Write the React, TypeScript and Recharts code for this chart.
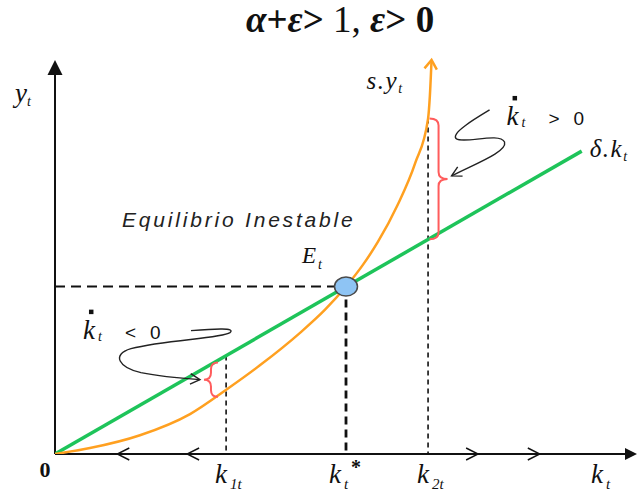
import React from 'react';
import { ComposedChart, Line, XAxis, YAxis, ReferenceLine, ReferenceDot } from 'recharts';

const serif = '"Liberation Serif", "Times New Roman", serif';
const sans = '"Liberation Sans", Arial, sans-serif';

const GREEN = '#1ec45a';
const ORANGE = '#ffa020';
const RED = '#ff5c5c';
const INK = '#111';

// δ·k_t : straight line through the origin
const deprK = [0, 9.05];
const deprY = [0, 6.15];

// s·y_t : convex saving curve
const saveK = [0, 0.6, 1.46, 2.32, 2.96, 3.52, 4.21, 4.64, 5.0, 5.29, 5.55, 5.88, 6.19, 6.41, 6.44, 6.47];
const saveY = [0, 0.12, 0.38, 0.81, 1.32, 1.8, 2.46, 2.93, 3.4, 3.84, 4.31, 5.04, 5.91, 6.81, 7.25, 8.0];

// labelled positions on the k axis (k1, k*, k2, axis name)
const tickK = [2.94, 5, 6.41, 9.4];
const tickSub = ['1t', 't', '2t', 't'];

// steady state E_t
const eqK = 5;
const eqY = 3.4;

// k1 / k2 guides: where the dashed verticals stop
const guideK = [2.94, 6.41];
const guideY = [2.0, 6.81];

// braces between the two curves
const gapK = [2.74, 6.41];
const gapLow = [1.16, 4.36];
const gapHigh = [1.86, 6.81];
const gapSign = ['<', '>'];

// direction arrows on the k axis
const flowK = [1.07, 2.27, 7.27, 8.33];
const flowDir = [-1, -1, 1, 1];

const deprData = deprK.map((k, i) => ({ k, y: deprY[i] }));
const saveData = saveK.map((k, i) => ({ k, y: saveY[i] }));

// open arrow head at (x, y), coming from (fx, fy)
const headPath = (x: number, y: number, fx: number, fy: number, len = 11, spread = 0.5) => {
  const a = Math.atan2(fy - y, fx - x);
  const p1 = [x + len * Math.cos(a - spread), y + len * Math.sin(a - spread)];
  const p2 = [x + len * Math.cos(a + spread), y + len * Math.sin(a + spread)];
  return `M${p1[0]},${p1[1]} L${x},${y} L${p2[0]},${p2[1]}`;
};

const AxisArrow = (p: any) => {
  const { x1, y1, x2, y2 } = p;
  const horiz = Math.abs(y2 - y1) < 1;
  const head = horiz
    ? `M${x2},${y2} L${x2 - 12},${y2 - 6} L${x2 - 12},${y2 + 6} Z`
    : `M${x2},${y2} L${x2 - 7.5},${y2 + 15} L${x2 + 7.5},${y2 + 15} Z`;
  return (
    <g>
      <line x1={x1} y1={y1} x2={horiz ? x2 - 10 : x2} y2={horiz ? y2 : y2 + 12} stroke={INK} strokeWidth={2} />
      <path d={head} fill={INK} />
    </g>
  );
};

const flowShape = (dir: number) => (p: any) => (
  <path
    d={`M${p.cx - dir * 12},${p.cy - 6} L${p.cx},${p.cy} L${p.cx - dir * 12},${p.cy + 6}`}
    fill="none"
    stroke={INK}
    strokeWidth={1.4}
  />
);

const RateNote = ({ x, y, sign }: { x: number; y: number; sign: string }) => (
  <g fill={INK}>
    <rect x={x + 6} y={y - 29} width={4.5} height={4.5} />
    <text x={x} y={y} fontFamily={serif} fontStyle="italic" fontSize={27}>k</text>
    <text x={x + 15} y={y + 2} fontFamily={serif} fontStyle="italic" fontSize={14}>t</text>
    <text x={x + 42} y={y} fontFamily={sans} fontSize={19}>{sign}</text>
    <text x={x + 67} y={y} fontFamily={sans} fontSize={19}>0</text>
  </g>
);

// squiggly pointer strokes, relative to the brace tip
const squiggles = [
  [[-13, -49], [12, -51], [32, -52], [26, -47], [17, -41], [-38, -40], [-73, -31], [-93, -25], [-85, -12], [-63, -7], [-43, -3], [-18, -1], [-4, 0]],
  [[42, -69], [27, -60], [2, -45], [9, -40], [17, -35], [52, -47], [57, -37], [60, -27], [27, -15], [4, -3]],
];
const noteAt = [[-121, -41], [59, -54]];

const gapShape = (i: number) => (p: any) => {
  const { x1, y1, y2 } = p;
  const top = Math.min(y1, y2);
  const bot = Math.max(y1, y2);
  const mid = (top + bot) / 2;
  const dir = i === 0 ? -1 : 1;
  const w = i === 0 ? 7 : 9;
  const bx = x1 + (i === 0 ? 3.5 : 1.5);
  const vx = bx + dir * w;
  const tx = bx + dir * 2 * w;
  const r = Math.min(7, (bot - top) / 5);
  const brace =
    `M${bx},${top} Q${vx},${top} ${vx},${top + r} L${vx},${mid - r} Q${vx},${mid} ${tx},${mid} ` +
    `Q${vx},${mid} ${vx},${mid + r} L${vx},${bot - r} Q${vx},${bot} ${bx},${bot}`;
  const pts = squiggles[i].map(([dx, dy]) => [tx + dx, mid + dy]);
  let d = `M${pts[0][0]},${pts[0][1]}`;
  for (let j = 1; j + 2 < pts.length; j += 3) {
    d += ` C${pts[j][0]},${pts[j][1]} ${pts[j + 1][0]},${pts[j + 1][1]} ${pts[j + 2][0]},${pts[j + 2][1]}`;
  }
  const end = pts[pts.length - 1];
  const prev = pts[pts.length - 2];
  return (
    <g>
      <path d={brace} fill="none" stroke={RED} strokeWidth={2} />
      <path d={d} fill="none" stroke="#222" strokeWidth={1.4} />
      <path d={headPath(end[0], end[1], prev[0], prev[1])} fill="none" stroke="#222" strokeWidth={1.4} />
      <RateNote x={tx + noteAt[i][0]} y={mid + noteAt[i][1]} sign={gapSign[i]} />
    </g>
  );
};

const KTick = (p: any) => {
  const { x, y, index } = p;
  const sub = tickSub[index];
  const kx = index === 1 ? x - 17 : x - 11;
  return (
    <g fill={INK} fontFamily={serif} fontStyle="italic">
      <text x={kx} y={y + 29} fontSize={27}>k</text>
      <text x={kx + 15} y={y + 35} fontSize={15}>{sub}</text>
      {index === 1 && (
        <text x={kx + 22} y={y + 20} fontSize={20} fontStyle="normal" fontWeight="bold">*</text>
      )}
    </g>
  );
};

const textShape = (render: (x: number, y: number) => React.ReactNode) => (p: any) => <g>{render(p.cx, p.cy)}</g>;

export default function App() {
  return (
    <div style={{ position: 'absolute', left: 0, top: 0, width: 637, height: 493, background: '#fff' }}>
      <div
        style={{
          position: 'absolute',
          left: 246,
          top: -2,
          fontFamily: serif,
          fontSize: 37,
          fontWeight: 'bold',
          whiteSpace: 'nowrap',
          color: INK,
        }}
      >
        <i>α</i>+<i>ε</i>&gt; <span style={{ fontWeight: 'normal' }}>1,</span> <i>ε</i>&gt; 0
      </div>
      <ComposedChart width={637} height={493} margin={{ top: 60, right: 0, left: 55, bottom: 0 }}>
        <XAxis
          type="number"
          dataKey="k"
          domain={[0, 10]}
          allowDataOverflow
          height={39}
          ticks={tickK}
          interval={0}
          tick={<KTick />}
          tickSize={0}
          tickMargin={0}
          axisLine={false}
          tickLine={false}
        />
        <YAxis type="number" domain={[0, 8]} allowDataOverflow hide />

        {/* axes with arrow heads */}
        <ReferenceLine segment={[{ x: 0, y: 0 }, { x: 10, y: 0 }]} shape={AxisArrow} />
        <ReferenceLine segment={[{ x: 0, y: 0 }, { x: 0, y: 8 }]} shape={AxisArrow} />

        {/* guides */}
        <ReferenceLine segment={[{ x: 0, y: eqY }, { x: eqK, y: eqY }]} stroke={INK} strokeWidth={2} strokeDasharray="10 6" />
        <ReferenceLine segment={[{ x: eqK, y: eqY }, { x: eqK, y: 0 }]} stroke={INK} strokeWidth={2.8} strokeDasharray="8 5" />
        {guideK.map((k, i) => (
          <ReferenceLine key={`g${i}`} segment={[{ x: k, y: guideY[i] }, { x: k, y: 0 }]} stroke={INK} strokeWidth={1.6} strokeDasharray="5 4" />
        ))}

        {flowK.map((k, i) => (
          <ReferenceDot key={`f${i}`} x={k} y={0} r={0} shape={flowShape(flowDir[i])} />
        ))}

        <Line data={deprData} dataKey="y" type="linear" stroke={GREEN} strokeWidth={3.5} dot={false} isAnimationActive={false} />
        <Line data={saveData} dataKey="y" type="monotone" stroke={ORANGE} strokeWidth={2.5} dot={false} isAnimationActive={false} />

        {/* arrow tip on the saving curve */}
        <ReferenceDot
          x={saveK[saveK.length - 1]}
          y={saveY[saveY.length - 1]}
          r={0}
          shape={(p: any) => (
            <path d={headPath(p.cx, p.cy, p.cx - 1, p.cy + 10, 11, 0.6)} fill="none" stroke={ORANGE} strokeWidth={2.5} />
          )}
        />

        {gapK.map((k, i) => (
          <ReferenceLine key={`b${i}`} segment={[{ x: k, y: gapLow[i] }, { x: k, y: gapHigh[i] }]} shape={gapShape(i)} />
        ))}

        <ReferenceDot
          x={eqK}
          y={eqY}
          r={0}
          shape={(p: any) => (
            <g>
              <ellipse cx={p.cx} cy={p.cy} rx={11.5} ry={9.5} fill="#8ec4f4" stroke="#4a4a4a" strokeWidth={1.5} />
              <text x={p.cx - 224} y={p.cy - 60} fontFamily={sans} fontStyle="italic" fontSize={21} letterSpacing={2.8} fill="#222">
                Equilibrio Inestable
              </text>
              <text x={p.cx - 44} y={p.cy - 24} fontFamily={serif} fontStyle="italic" fontSize={23} fill={INK}>
                E<tspan fontSize={14} dy={6} dx={2}>t</tspan>
              </text>
            </g>
          )}
        />

        {/* curve names */}
        <ReferenceDot
          x={saveK[saveK.length - 1]}
          y={saveY[saveY.length - 1]}
          r={0}
          shape={textShape((x, y) => (
            <text x={x - 28} y={y + 29} textAnchor="end" fontFamily={serif} fontStyle="italic" fontSize={25} letterSpacing={1.5} fill={INK}>
              s.y<tspan fontSize={14} dy={4}>t</tspan>
            </text>
          ))}
        />
        <ReferenceDot
          x={deprK[1]}
          y={deprY[1]}
          r={0}
          shape={textShape((x, y) => (
            <text x={x + 8} y={y + 6} fontFamily={serif} fontStyle="italic" fontSize={25} letterSpacing={1.5} fill={INK}>
              δ.k<tspan fontSize={14} dy={4}>t</tspan>
            </text>
          ))}
        />
        <ReferenceDot
          x={0}
          y={8}
          r={0}
          shape={textShape((x, y) => (
            <text x={x - 40} y={y + 42} fontFamily={serif} fontStyle="italic" fontSize={27} fill={INK}>
              y<tspan fontSize={14} dy={4}>t</tspan>
            </text>
          ))}
        />
        <ReferenceDot
          x={0}
          y={0}
          r={0}
          shape={textShape((x, y) => (
            <text x={x - 10} y={y + 23} textAnchor="middle" fontFamily={serif} fontWeight="bold" fontSize={22} fill={INK}>
              0
            </text>
          ))}
        />
      </ComposedChart>
    </div>
  );
}
